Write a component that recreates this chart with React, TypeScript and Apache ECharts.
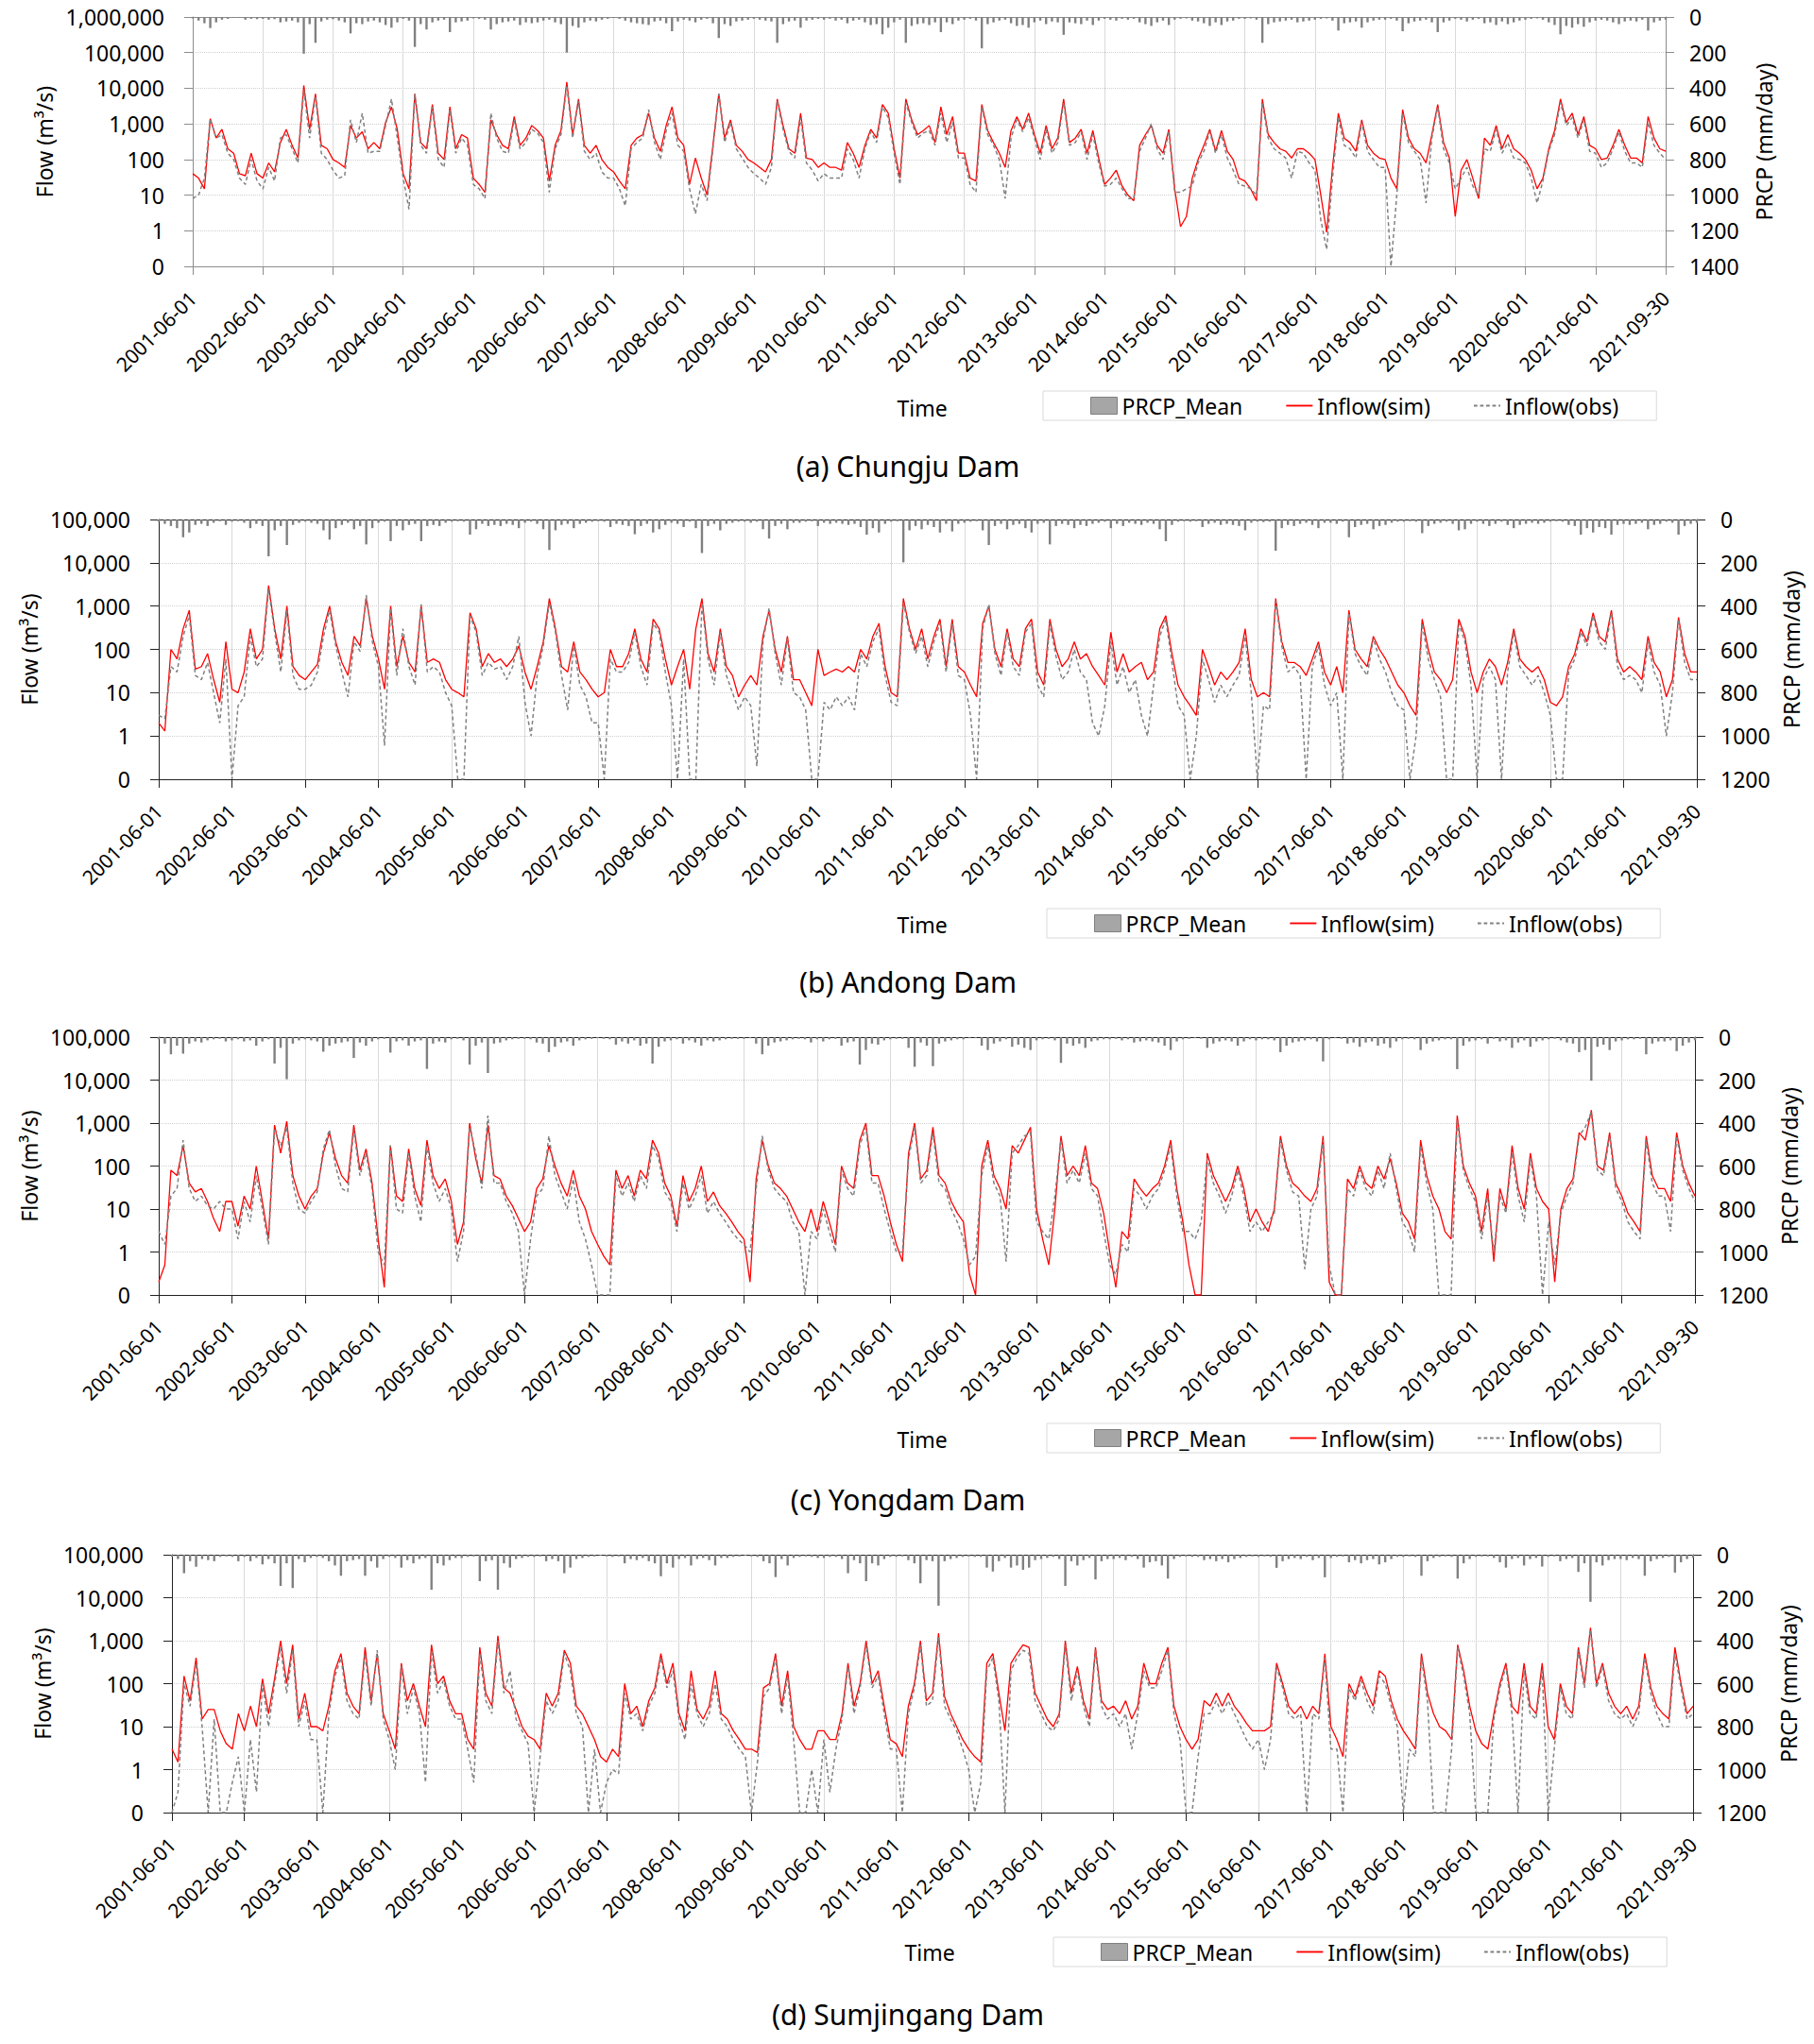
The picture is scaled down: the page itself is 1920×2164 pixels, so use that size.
import React, { useEffect, useRef } from "react";
import * as echarts from "echarts";

// ---------- tick labels ----------
const xLabels = [
  "2001-06-01", "2002-06-01", "2003-06-01", "2004-06-01", "2005-06-01", "2006-06-01",
  "2007-06-01", "2008-06-01", "2009-06-01", "2010-06-01", "2011-06-01", "2012-06-01",
  "2013-06-01", "2014-06-01", "2015-06-01", "2016-06-01", "2017-06-01", "2018-06-01",
  "2019-06-01", "2020-06-01", "2021-06-01", "2021-09-30",
];

const seriesNames = ["PRCP_Mean", "Inflow(sim)", "Inflow(obs)"];

// ---------- (a) Chungju Dam ----------
const simA = [
  40, 30, 15, 1400, 400, 700, 200, 150, 40, 35, 150, 40,
  30, 80, 45, 300, 700, 250, 110, 12000, 700, 7000, 250, 200,
  100, 80, 60, 900, 400, 600, 200, 300, 200, 1100, 3000, 700,
  40, 15, 7000, 300, 200, 3500, 150, 100, 3000, 200, 500, 400,
  30, 20, 12, 1300, 500, 250, 200, 1600, 250, 400, 900, 650,
  400, 25, 250, 650, 15000, 500, 5000, 250, 150, 250, 100, 60,
  45, 25, 15, 250, 400, 500, 2000, 400, 170, 900, 3000, 400,
  250, 20, 110, 30, 10, 250, 7000, 400, 1300, 250, 170, 100,
  80, 60, 45, 100, 5000, 900, 200, 150, 2000, 110, 100, 60,
  80, 60, 60, 50, 300, 150, 60, 250, 700, 400, 3500, 2000,
  200, 30, 5000, 1300, 500, 650, 900, 300, 3000, 500, 1600, 150,
  150, 30, 25, 3500, 650, 300, 150, 60, 650, 1600, 700, 2000,
  500, 150, 900, 200, 400, 5000, 300, 400, 700, 150, 650, 110,
  20, 30, 50, 18, 10, 7, 250, 500, 900, 250, 150, 700,
  15, 1.3, 2.5, 30, 100, 250, 700, 170, 650, 170, 100, 30,
  25, 15, 7, 5000, 500, 300, 200, 170, 110, 200, 200, 150,
  100, 10, 0.9, 60, 2000, 400, 300, 170, 1300, 250, 150, 110,
  100, 30, 15, 2500, 400, 200, 150, 80, 500, 3500, 300, 110,
  2.5, 50, 100, 30, 8, 400, 250, 900, 200, 500, 200, 150,
  100, 50, 15, 30, 200, 650, 5000, 1100, 2000, 500, 1600, 250,
  200, 100, 110, 250, 700, 250, 110, 110, 80, 1600, 400, 200, 170,
];
const obsA = [
  8, 10, 30, 1400, 400, 500, 150, 100, 30, 20, 100, 25,
  15, 60, 25, 400, 500, 200, 80, 9000, 400, 6000, 150, 100,
  50, 30, 35, 1300, 300, 2000, 150, 170, 170, 900, 5000, 400,
  30, 4, 7000, 250, 150, 3000, 100, 60, 2500, 150, 400, 250,
  20, 15, 8, 2000, 400, 170, 150, 1300, 200, 300, 700, 550,
  300, 12, 200, 500, 12000, 400, 4500, 170, 100, 150, 45, 30,
  30, 15, 5, 200, 300, 400, 2500, 300, 100, 650, 2000, 250,
  170, 15, 3, 20, 7, 200, 7000, 300, 1100, 200, 110, 60,
  40, 30, 20, 60, 4500, 700, 170, 110, 1500, 80, 50, 25,
  40, 30, 30, 30, 200, 100, 30, 200, 600, 300, 3000, 1500,
  150, 20, 4000, 1100, 400, 550, 650, 250, 2000, 300, 1100, 110,
  110, 20, 12, 3000, 500, 250, 100, 8, 400, 1300, 600, 1500,
  400, 100, 700, 150, 300, 4000, 250, 300, 600, 100, 500, 80,
  18, 20, 30, 15, 8, 8, 170, 400, 1000, 200, 100, 600,
  12, 12, 15, 18, 80, 170, 600, 150, 500, 110, 50, 20,
  18, 15, 10, 4000, 400, 200, 150, 110, 30, 170, 150, 80,
  50, 2, 0.3, 30, 1500, 250, 200, 110, 1100, 170, 100, 60,
  60, 0.1, 10, 2000, 300, 170, 100, 6, 400, 3000, 200, 80,
  15, 30, 60, 18, 10, 200, 170, 700, 150, 300, 110, 100,
  80, 30, 6, 25, 170, 500, 4000, 900, 1500, 400, 1300, 170,
  150, 60, 80, 200, 600, 170, 80, 80, 60, 1100, 250, 150, 100,
];
const prcpA = [
  8, 20, 35, 62, 30, 15, 10, 5, 4, 15, 10, 12,
  10, 15, 12, 30, 25, 20, 30, 206, 40, 145, 25, 15,
  12, 20, 30, 92, 35, 40, 25, 20, 30, 45, 60, 30,
  10, 20, 168, 40, 70, 30, 20, 15, 85, 30, 25, 20,
  8, 10, 15, 70, 40, 30, 25, 20, 45, 30, 35, 30,
  20, 15, 30, 40, 200, 50, 60, 30, 20, 25, 15, 10,
  5, 10, 20, 30, 35, 40, 45, 25, 20, 35, 80, 25,
  15, 20, 30, 15, 10, 35, 118, 40, 50, 25, 20, 15,
  10, 15, 20, 25, 145, 40, 25, 20, 60, 20, 15, 10,
  15, 10, 20, 15, 35, 20, 15, 30, 45, 40, 97, 60,
  30, 15, 145, 50, 40, 35, 45, 30, 85, 30, 40, 20,
  15, 10, 20, 176, 40, 30, 20, 15, 35, 50, 45, 60,
  30, 20, 40, 25, 30, 100, 30, 35, 40, 20, 45, 20,
  10, 15, 20, 10, 15, 10, 30, 40, 50, 30, 20, 45,
  15, 10, 8, 20, 25, 35, 50, 30, 45, 25, 20, 10,
  10, 8, 15, 145, 40, 30, 25, 20, 15, 30, 25, 20,
  15, 10, 8, 20, 76, 35, 30, 25, 60, 30, 20, 15,
  15, 10, 20, 80, 35, 25, 20, 15, 30, 85, 30, 20,
  10, 15, 25, 15, 10, 35, 30, 45, 25, 40, 30, 20,
  15, 10, 8, 15, 30, 45, 97, 50, 60, 40, 55, 30,
  20, 15, 20, 30, 40, 25, 20, 25, 15, 76, 30, 20, 15,
];

// ---------- (b) Andong Dam ----------
const simB = [
  2, 1.3, 100, 60, 300, 800, 35, 40, 80, 20, 6, 150,
  12, 10, 30, 300, 60, 100, 3000, 300, 60, 1000, 40, 25,
  20, 30, 45, 300, 1000, 150, 50, 25, 200, 120, 1500, 200,
  60, 12, 1000, 40, 200, 50, 30, 1000, 50, 60, 50, 20,
  12, 10, 8, 700, 300, 40, 80, 50, 60, 40, 60, 120,
  30, 12, 40, 150, 1500, 300, 40, 30, 150, 30, 20, 12,
  8, 10, 100, 40, 40, 80, 300, 60, 30, 500, 300, 60,
  15, 40, 100, 12, 300, 1500, 80, 30, 300, 40, 25, 8,
  15, 25, 15, 200, 800, 100, 30, 200, 20, 20, 10, 5,
  100, 25, 30, 35, 30, 40, 30, 100, 60, 200, 400, 40,
  10, 8, 1500, 300, 100, 300, 60, 200, 500, 40, 500, 40,
  30, 15, 8, 400, 1000, 100, 40, 300, 60, 40, 300, 500,
  30, 15, 500, 100, 40, 60, 150, 60, 80, 40, 25, 15,
  250, 30, 80, 30, 40, 50, 20, 30, 300, 600, 80, 15,
  8, 5, 3, 100, 40, 15, 30, 20, 30, 50, 300, 20,
  8, 10, 8, 1500, 150, 50, 50, 40, 25, 60, 150, 30,
  15, 40, 10, 800, 100, 60, 40, 200, 100, 60, 30, 15,
  10, 5, 3, 500, 100, 30, 20, 10, 20, 500, 200, 30,
  10, 30, 60, 40, 15, 50, 300, 60, 40, 30, 40, 20,
  6, 5, 8, 40, 80, 300, 150, 700, 200, 150, 800, 60,
  30, 40, 30, 20, 200, 50, 30, 8, 20, 550, 80, 30, 30,
];
const obsB = [
  3, 2.5, 40, 30, 200, 600, 25, 20, 50, 10, 2, 60,
  0.1, 5, 8, 200, 40, 60, 2500, 250, 30, 800, 25, 12,
  12, 15, 30, 200, 800, 120, 30, 8, 150, 90, 1800, 150,
  40, 0.6, 900, 25, 300, 40, 15, 1100, 30, 40, 30, 10,
  5, 0.1, 0.1, 600, 250, 25, 50, 35, 40, 20, 40, 200,
  6, 1, 25, 120, 1200, 250, 25, 4, 120, 15, 8, 2,
  2, 0.1, 60, 30, 30, 50, 250, 40, 15, 400, 250, 30,
  5, 0.1, 60, 0.1, 0.1, 1200, 60, 15, 250, 25, 10, 4,
  8, 5, 0.2, 150, 900, 80, 15, 180, 10, 8, 4, 0.1,
  0.1, 6, 4, 8, 5, 8, 4, 80, 40, 150, 300, 25,
  6, 5, 1200, 250, 80, 200, 40, 150, 400, 30, 400, 25,
  20, 3, 0.1, 300, 1100, 80, 25, 250, 40, 25, 250, 400,
  15, 8, 400, 70, 20, 30, 100, 30, 20, 2, 1, 5,
  150, 15, 40, 10, 20, 3, 1, 15, 200, 500, 50, 5,
  3, 0.1, 1, 60, 20, 6, 15, 8, 15, 25, 200, 10,
  0.1, 5, 4, 1300, 120, 30, 40, 25, 0.1, 40, 120, 15,
  5, 10, 0.1, 700, 80, 40, 25, 180, 60, 30, 10, 5,
  4, 0.1, 1, 400, 60, 20, 8, 0.1, 0.1, 400, 150, 15,
  0.1, 20, 40, 20, 0.1, 30, 250, 40, 25, 15, 25, 10,
  3, 0.1, 0.1, 30, 60, 250, 120, 600, 150, 100, 700, 40,
  20, 25, 20, 10, 150, 30, 15, 1, 10, 500, 50, 20, 20,
];
const prcpB = [
  10, 20, 30, 40, 82, 60, 25, 20, 30, 15, 8, 25,
  10, 8, 15, 40, 20, 30, 170, 50, 30, 118, 25, 15,
  10, 15, 20, 50, 93, 40, 25, 15, 45, 30, 115, 40,
  15, 10, 100, 30, 50, 25, 20, 100, 30, 25, 30, 15,
  10, 8, 10, 70, 45, 20, 30, 25, 30, 20, 25, 40,
  15, 10, 20, 45, 141, 50, 25, 20, 40, 20, 15, 10,
  8, 10, 35, 20, 25, 30, 68, 30, 20, 60, 45, 25,
  15, 20, 35, 10, 40, 155, 30, 20, 50, 20, 15, 10,
  10, 15, 10, 45, 88, 30, 20, 45, 15, 15, 10, 8,
  30, 15, 20, 15, 20, 25, 20, 35, 70, 40, 60, 20,
  10, 8, 198, 50, 30, 45, 25, 35, 60, 20, 55, 20,
  15, 10, 8, 50, 118, 30, 20, 45, 25, 20, 40, 60,
  20, 15, 115, 30, 20, 25, 40, 25, 30, 20, 15, 10,
  40, 20, 30, 15, 20, 25, 15, 20, 45, 100, 25, 10,
  8, 10, 8, 35, 20, 15, 25, 20, 25, 30, 50, 15,
  10, 12, 10, 144, 40, 25, 30, 20, 15, 25, 40, 15,
  15, 20, 10, 82, 35, 25, 20, 45, 30, 25, 15, 10,
  10, 8, 10, 63, 30, 20, 15, 10, 20, 50, 45, 20,
  10, 20, 30, 20, 10, 25, 40, 25, 20, 15, 20, 15,
  10, 8, 10, 25, 30, 70, 40, 60, 35, 40, 70, 25,
  20, 25, 20, 15, 45, 25, 20, 10, 15, 70, 30, 20, 15,
];

// ---------- (c) Yongdam Dam ----------
const simC = [
  0.2, 0.5, 80, 60, 300, 40, 25, 30, 15, 6, 3, 15,
  15, 4, 20, 10, 100, 15, 2, 900, 200, 1100, 60, 20,
  10, 20, 30, 200, 600, 150, 60, 40, 900, 80, 250, 40,
  2, 0.15, 300, 20, 15, 250, 30, 12, 400, 60, 30, 50,
  15, 1.5, 5, 1000, 150, 40, 900, 60, 50, 20, 12, 6,
  3, 5, 30, 50, 300, 100, 40, 20, 80, 20, 10, 3,
  1.5, 0.8, 0.5, 80, 30, 60, 20, 80, 50, 400, 200, 40,
  20, 4, 60, 15, 30, 100, 15, 25, 12, 8, 5, 3,
  2, 0.2, 50, 400, 100, 40, 30, 20, 10, 5, 3, 10,
  3, 15, 5, 1.5, 100, 40, 30, 400, 1000, 60, 60, 20,
  5, 1.5, 0.6, 200, 1000, 50, 80, 800, 60, 40, 15, 8,
  5, 0.3, 0.1, 100, 400, 60, 30, 10, 300, 200, 400, 800,
  10, 2, 0.5, 10, 500, 60, 100, 60, 300, 40, 30, 8,
  1, 0.15, 3, 2, 50, 30, 20, 30, 40, 100, 400, 30,
  5, 0.5, 0.1, 0.1, 200, 60, 30, 15, 30, 100, 30, 5,
  10, 5, 3, 10, 500, 100, 40, 30, 20, 15, 30, 500,
  0.2, 0.1, 0.1, 50, 30, 100, 40, 30, 100, 50, 150, 40,
  8, 5, 2, 400, 60, 20, 10, 3, 2, 1500, 100, 40,
  20, 3, 30, 0.6, 30, 10, 300, 30, 10, 200, 30, 15,
  10, 0.2, 10, 30, 50, 600, 400, 2000, 100, 80, 600, 40,
  20, 8, 5, 3, 500, 60, 30, 30, 15, 600, 100, 40, 20,
];
const obsC = [
  3, 1.5, 20, 30, 400, 30, 15, 20, 12, 10, 15, 10,
  10, 2, 15, 5, 60, 10, 1.5, 700, 300, 800, 40, 10,
  8, 15, 25, 250, 700, 100, 30, 25, 700, 60, 200, 30,
  1, 0.5, 300, 10, 8, 200, 20, 5, 300, 40, 15, 30,
  10, 0.6, 3, 800, 200, 30, 1500, 40, 40, 15, 8, 3,
  0.1, 2, 20, 30, 500, 60, 25, 10, 50, 5, 2, 0.5,
  0.1, 0.1, 0.1, 60, 20, 40, 15, 60, 30, 300, 150, 25,
  15, 3, 40, 10, 20, 60, 8, 15, 8, 5, 3, 2,
  1.5, 1, 30, 500, 80, 30, 20, 15, 5, 3, 0.1, 3,
  2, 10, 3, 1, 80, 30, 20, 300, 800, 40, 40, 10,
  3, 1, 1, 150, 800, 40, 60, 600, 40, 30, 10, 5,
  2, 0.5, 0.8, 60, 300, 40, 20, 0.6, 200, 300, 500, 600,
  5, 3, 2, 20, 400, 40, 80, 40, 200, 30, 20, 3,
  0.5, 0.3, 1.5, 1, 30, 20, 10, 20, 30, 80, 300, 20,
  3, 3, 2, 5, 150, 40, 20, 8, 20, 80, 20, 3,
  5, 3, 5, 8, 400, 80, 25, 20, 0.4, 10, 20, 400,
  0.5, 0.1, 0.1, 30, 20, 80, 30, 20, 80, 30, 200, 30,
  5, 3, 1, 300, 40, 10, 0.1, 0.1, 0.1, 1200, 80, 30,
  15, 2, 20, 1, 20, 8, 200, 20, 5, 150, 20, 0.1,
  5, 0.5, 8, 20, 40, 500, 800, 1800, 80, 60, 500, 30,
  15, 5, 3, 2, 400, 40, 20, 20, 3, 500, 80, 30, 15,
];
const prcpC = [
  10, 30, 80, 40, 77, 30, 20, 25, 15, 10, 8, 20,
  15, 10, 20, 15, 40, 20, 10, 123, 50, 196, 30, 15,
  10, 15, 20, 68, 40, 30, 25, 20, 97, 25, 40, 20,
  10, 8, 72, 20, 15, 40, 20, 15, 148, 30, 20, 25,
  10, 8, 15, 128, 40, 25, 167, 30, 25, 15, 10, 8,
  8, 10, 25, 30, 70, 45, 25, 20, 40, 15, 10, 8,
  5, 8, 10, 35, 20, 30, 15, 40, 30, 123, 45, 20,
  15, 10, 30, 15, 25, 40, 15, 20, 15, 10, 8, 8,
  8, 5, 30, 80, 40, 25, 20, 15, 10, 8, 10, 25,
  10, 20, 10, 8, 40, 25, 20, 128, 60, 30, 35, 15,
  10, 8, 8, 50, 138, 25, 40, 135, 30, 20, 15, 10,
  10, 5, 5, 40, 60, 30, 20, 10, 45, 35, 50, 60,
  15, 10, 8, 15, 120, 30, 40, 30, 50, 20, 15, 10,
  10, 8, 15, 10, 25, 20, 15, 20, 25, 40, 60, 20,
  10, 8, 5, 8, 50, 30, 20, 15, 20, 40, 20, 10,
  15, 10, 10, 15, 70, 40, 25, 20, 15, 10, 20, 113,
  10, 5, 8, 30, 25, 45, 25, 20, 40, 30, 50, 20,
  10, 8, 10, 60, 30, 20, 15, 10, 10, 149, 40, 20,
  15, 10, 30, 8, 20, 15, 50, 25, 15, 45, 20, 15,
  10, 8, 15, 25, 30, 70, 60, 203, 45, 35, 60, 20,
  15, 10, 10, 8, 80, 30, 20, 20, 15, 65, 40, 25, 15,
];

// ---------- (d) Sumjingang Dam ----------
const simD = [
  3, 1.5, 150, 40, 400, 15, 25, 25, 8, 4, 3, 20,
  8, 30, 10, 130, 20, 130, 1000, 100, 800, 15, 60, 10,
  10, 8, 30, 200, 500, 60, 30, 20, 700, 40, 500, 20,
  8, 3, 300, 40, 100, 30, 10, 800, 100, 150, 40, 20,
  20, 5, 3, 700, 60, 30, 1300, 80, 60, 25, 10, 6,
  5, 3, 60, 30, 60, 600, 300, 30, 20, 10, 5, 2,
  1.5, 3, 2, 100, 20, 30, 10, 40, 80, 500, 100, 300,
  20, 8, 200, 25, 15, 30, 200, 20, 15, 8, 5, 3,
  3, 2.5, 80, 100, 500, 30, 200, 10, 5, 3, 3, 8,
  8, 5, 5, 20, 300, 30, 100, 1000, 100, 200, 30, 5,
  4, 2, 30, 100, 1000, 40, 60, 1500, 50, 20, 10, 5,
  3, 2, 1.5, 300, 500, 60, 8, 300, 500, 800, 700, 60,
  30, 15, 10, 20, 1000, 60, 250, 40, 15, 700, 40, 25,
  30, 20, 40, 15, 30, 300, 100, 100, 300, 700, 30, 10,
  5, 3, 5, 40, 30, 60, 30, 60, 30, 20, 12, 8,
  8, 8, 10, 300, 100, 30, 20, 30, 15, 30, 20, 500,
  10, 5, 2, 100, 50, 150, 60, 30, 200, 150, 40, 15,
  8, 5, 3, 500, 60, 20, 10, 8, 5, 800, 200, 30,
  8, 4, 3, 20, 100, 300, 30, 20, 300, 30, 20, 300,
  10, 5, 100, 30, 20, 700, 100, 2000, 100, 300, 60, 30,
  20, 30, 15, 30, 500, 80, 30, 20, 15, 700, 100, 20, 30,
];
const obsD = [
  0.1, 0.3, 100, 30, 300, 10, 0.1, 15, 0.1, 0.1, 0.5, 2,
  0.1, 5, 0.3, 100, 10, 100, 700, 60, 600, 10, 40, 5,
  5, 0.1, 20, 150, 400, 40, 20, 15, 500, 30, 600, 15,
  5, 1, 250, 20, 80, 20, 0.5, 600, 60, 120, 30, 15,
  15, 3, 0.5, 500, 40, 20, 1000, 60, 200, 15, 8, 4,
  0.1, 2, 40, 20, 40, 500, 200, 20, 10, 0.1, 3, 0.1,
  0.5, 1, 0.8, 60, 15, 20, 8, 30, 60, 400, 80, 200,
  15, 5, 100, 20, 10, 20, 100, 15, 10, 5, 3, 2,
  0.1, 1.5, 50, 80, 400, 20, 150, 5, 0.1, 0.1, 1, 0.1,
  5, 0.3, 3, 15, 250, 20, 80, 800, 80, 150, 20, 3,
  3, 0.1, 20, 80, 800, 30, 40, 1200, 30, 15, 8, 3,
  1, 0.1, 0.5, 200, 400, 40, 0.1, 200, 400, 600, 500, 40,
  20, 10, 8, 15, 800, 40, 200, 30, 10, 600, 30, 15,
  20, 10, 20, 3, 20, 200, 80, 80, 200, 600, 20, 5,
  0.1, 0.1, 2, 20, 20, 40, 20, 40, 20, 10, 5, 3,
  5, 1, 5, 250, 80, 20, 15, 20, 0.1, 20, 15, 400,
  3, 3, 0.1, 80, 40, 120, 40, 20, 150, 100, 30, 10,
  0.1, 3, 2, 400, 40, 0.1, 0.1, 0.1, 3, 700, 150, 20,
  0.1, 0.1, 0.1, 15, 80, 250, 20, 0.1, 200, 20, 15, 200,
  0.1, 3, 80, 20, 15, 600, 80, 1800, 80, 250, 40, 20,
  15, 20, 10, 20, 400, 60, 20, 10, 10, 500, 80, 15, 20,
];
const prcpD = [
  10, 20, 86, 30, 56, 20, 25, 30, 10, 8, 10, 30,
  10, 30, 15, 45, 20, 40, 145, 40, 155, 20, 35, 15,
  10, 15, 30, 50, 98, 30, 25, 20, 98, 30, 60, 20,
  10, 15, 60, 25, 40, 20, 15, 163, 40, 50, 25, 15,
  15, 10, 8, 123, 30, 25, 163, 40, 60, 20, 15, 10,
  10, 8, 30, 20, 30, 86, 60, 20, 15, 10, 8, 5,
  8, 10, 8, 40, 20, 25, 15, 30, 40, 100, 40, 60,
  20, 15, 50, 20, 15, 25, 50, 15, 15, 10, 8, 5,
  8, 10, 30, 40, 104, 20, 50, 15, 10, 8, 10, 15,
  15, 10, 10, 20, 86, 25, 40, 123, 40, 50, 20, 10,
  10, 8, 25, 40, 133, 25, 30, 237, 30, 20, 15, 10,
  8, 10, 10, 60, 78, 30, 15, 60, 50, 70, 60, 25,
  20, 15, 10, 20, 145, 30, 50, 25, 15, 115, 30, 20,
  20, 15, 25, 10, 20, 60, 35, 30, 50, 111, 20, 10,
  8, 10, 10, 25, 20, 30, 20, 35, 20, 15, 10, 8,
  10, 8, 10, 61, 30, 20, 15, 20, 10, 25, 15, 105,
  15, 10, 8, 35, 25, 40, 25, 20, 45, 35, 20, 10,
  10, 8, 10, 98, 30, 15, 10, 8, 10, 111, 40, 20,
  10, 8, 8, 15, 35, 60, 20, 15, 50, 20, 15, 55,
  10, 8, 30, 20, 15, 80, 40, 219, 35, 50, 25, 20,
  20, 25, 15, 20, 98, 30, 20, 15, 10, 83, 35, 20, 15,
];

// ---------- layout of the four panels ----------
const FONT = "Noto Sans";
const panels = [
  {
    caption: "(a) Chungju Dam", sim: simA, obs: obsA, prcp: prcpA, flowMax: 1000000, prcpMax: 1400,
    grid: { left: 204, top: 18, width: 1559, height: 264 }, axisColor: "#8c8c8c",
    leftGap: 133, rightGap: 92, legend: { left: 1104, top: 414 }, time: [976, 432], capY: 493,
  },
  {
    caption: "(b) Andong Dam", sim: simB, obs: obsB, prcp: prcpB, flowMax: 100000, prcpMax: 1200,
    grid: { left: 168, top: 550, width: 1628, height: 275 }, axisColor: "#222",
    leftGap: 126, rightGap: 85, legend: { left: 1108, top: 962 }, time: [976, 979], capY: 1039,
  },
  {
    caption: "(c) Yongdam Dam", sim: simC, obs: obsC, prcp: prcpC, flowMax: 100000, prcpMax: 1200,
    grid: { left: 168, top: 1098, width: 1626, height: 273 }, axisColor: "#222",
    leftGap: 126, rightGap: 85, legend: { left: 1108, top: 1507 }, time: [976, 1524], capY: 1587,
  },
  {
    caption: "(d) Sumjingang Dam", sim: simD, obs: obsD, prcp: prcpD, flowMax: 100000, prcpMax: 1200,
    grid: { left: 182, top: 1646, width: 1610, height: 273 }, axisColor: "#222",
    leftGap: 124, rightGap: 89, legend: { left: 1115, top: 2051 }, time: [984, 2067], capY: 2132,
  },
];

// legend glyphs: a solid line and a dashed line
const solidIcon = "path://M0,0L30,0L30,2L0,2Z";
const dashedIcon = "path://M0,0h4v2h-4zM7,0h4v2h-4zM14,0h4v2h-4zM21,0h4v2h-4zM28,0h2v2h-2z";

const nIntervals = xLabels.length - 1;
const toXY = (arr: number[]) => arr.map((v, i) => [(i * nIntervals) / (arr.length - 1), v]);
const flowFmt = (v: number) => (v < 1 ? "0" : Math.round(v).toLocaleString("en-US"));
const prcpFmt = (v: number) => String(Math.round(v));

function buildOption() {
  const grid: any[] = [];
  const xAxis: any[] = [];
  const yAxis: any[] = [];
  const series: any[] = [];
  const legend: any[] = [];
  const graphic: any[] = [];

  panels.forEach((p, k) => {
    grid.push({ ...p.grid });
    const ac = p.axisColor;
    xAxis.push({
      type: "value", gridIndex: k, min: 0, max: nIntervals, interval: 1, position: "bottom",
      axisLine: { show: true, onZero: false, lineStyle: { color: ac, width: 1.2 } },
      axisTick: { show: true, length: 9, lineStyle: { color: ac } },
      axisLabel: {
        rotate: 45, fontSize: 21, color: "#000", fontFamily: FONT, margin: 30,
        formatter: (v: number) => xLabels[Math.round(v)] ?? "",
      },
      splitLine: { show: true, lineStyle: { color: "#d9d9d9", width: 1 } },
    });
    xAxis.push({
      type: "value", gridIndex: k, min: 0, max: nIntervals, position: "top",
      axisLine: { show: true, onZero: false, lineStyle: { color: ac, width: 1.2 } },
      axisTick: { show: false }, axisLabel: { show: false }, splitLine: { show: false },
    });
    yAxis.push({
      type: "log", logBase: 10, gridIndex: k, min: 0.1, max: p.flowMax, position: "left", splitNumber: 10,
      name: "Flow (m³/s)", nameLocation: "middle", nameGap: p.leftGap, nameRotate: 90,
      nameTextStyle: { fontSize: 23, color: "#000", fontFamily: FONT },
      axisLine: { show: true, onZero: false, lineStyle: { color: ac } },
      axisTick: { show: true, length: 9, lineStyle: { color: ac } },
      axisLabel: { fontSize: 23, color: "#000", fontFamily: FONT, margin: 30, formatter: flowFmt },
      splitLine: { show: true, lineStyle: { color: "#cfcfcf", type: "dotted", width: 1 } },
    });
    yAxis.push({
      type: "value", gridIndex: k, min: 0, max: p.prcpMax, interval: 200, inverse: true, position: "right",
      name: "PRCP (mm/day)", nameLocation: "middle", nameGap: p.rightGap, nameRotate: 90,
      nameTextStyle: { fontSize: 23, color: "#000", fontFamily: FONT },
      axisLine: { show: true, onZero: false, lineStyle: { color: ac } },
      axisTick: { show: true, length: 9, lineStyle: { color: ac } },
      axisLabel: { fontSize: 23, color: "#000", fontFamily: FONT, margin: 25, formatter: prcpFmt },
      splitLine: { show: false },
    });
    series.push({
      type: "bar", name: seriesNames[0], xAxisIndex: 2 * k, yAxisIndex: 2 * k + 1,
      data: toXY(p.prcp), barWidth: 2.4, itemStyle: { color: "#808080" },
    });
    series.push({
      type: "line", name: seriesNames[1], xAxisIndex: 2 * k, yAxisIndex: 2 * k,
      data: toXY(p.sim), symbol: "none", showSymbol: false,
      lineStyle: { color: "#ff0000", width: 1.3 }, itemStyle: { color: "#ff0000" },
    });
    series.push({
      type: "line", name: seriesNames[2], xAxisIndex: 2 * k, yAxisIndex: 2 * k,
      data: toXY(p.obs), symbol: "none", showSymbol: false,
      lineStyle: { color: "#808080", width: 1.5, type: [4, 3] }, itemStyle: { color: "#808080" },
    });
    legend.push({
      left: p.legend.left, top: p.legend.top, orient: "horizontal", selectedMode: false,
      data: [
        { name: seriesNames[0], icon: "rect", itemStyle: { color: "#a6a6a6", borderColor: "#808080", borderWidth: 1 } },
        { name: seriesNames[1], icon: solidIcon, itemStyle: { color: "#ff0000" } },
        { name: seriesNames[2], icon: dashedIcon, itemStyle: { color: "#808080" } },
      ],
      itemWidth: 28, itemHeight: 18, itemGap: 46,
      textStyle: { fontSize: 23, color: "#000", fontFamily: FONT },
      borderColor: "#d9d9d9", borderWidth: 1, padding: [4, 40, 4, 50],
    });
    graphic.push({
      type: "text", x: p.time[0], y: p.time[1],
      style: { text: "Time", fontSize: 23, fontFamily: FONT, fill: "#000", align: "center", verticalAlign: "middle" },
    });
    graphic.push({
      type: "text", x: 961, y: p.capY,
      style: { text: p.caption, fontSize: 30, fontFamily: FONT, fill: "#000", align: "center", verticalAlign: "middle" },
    });
  });

  return {
    animation: false,
    backgroundColor: "#ffffff",
    textStyle: { fontFamily: FONT },
    grid, xAxis, yAxis, series, legend, graphic,
  };
}

export default function App() {
  const ref = useRef<HTMLDivElement>(null);
  useEffect(() => {
    document.body.style.margin = "0";
    if (!ref.current) return;
    const chart = echarts.init(ref.current, undefined, { renderer: "svg" });
    chart.setOption(buildOption() as any);
    return () => chart.dispose();
  }, []);
  return <div ref={ref} style={{ width: 1920, height: 2164, background: "#fff" }} />;
}
